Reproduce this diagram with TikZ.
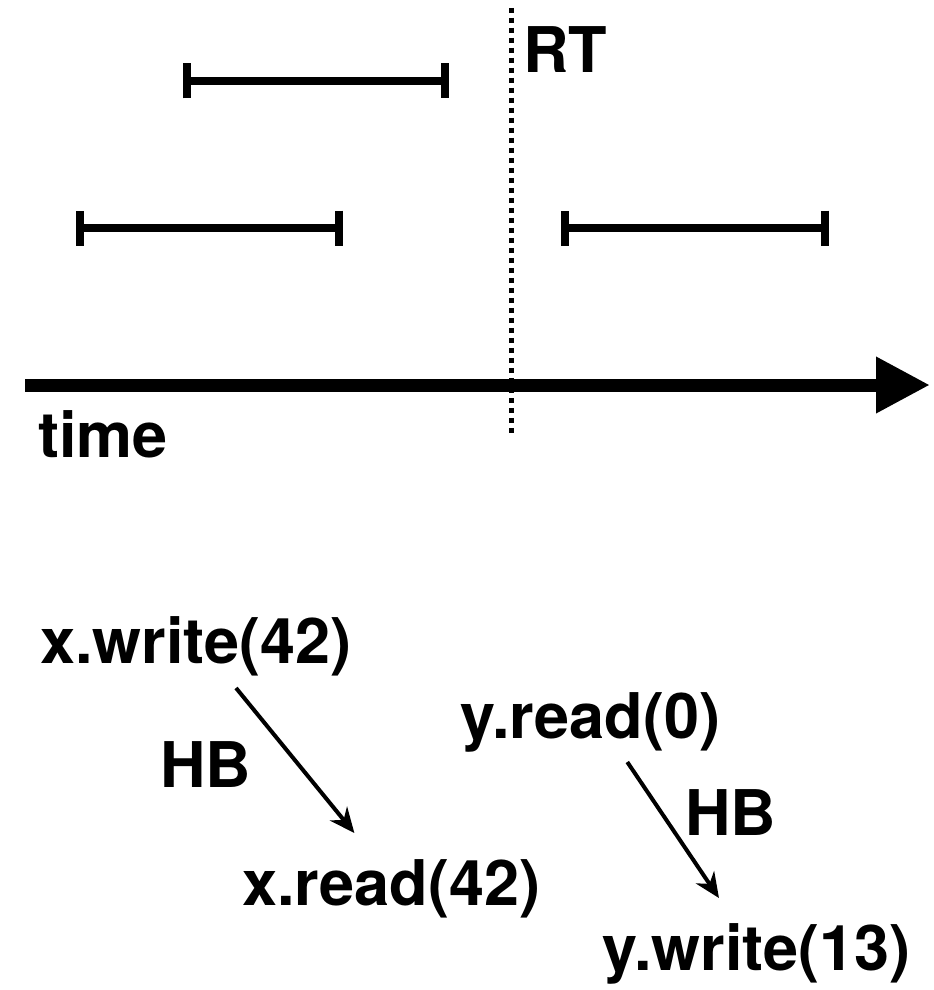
\documentclass[tikz,border=0pt]{standalone}
\usepackage{fontspec}
\setmainfont{TeX Gyre Heros}
\usetikzlibrary{arrows.meta}

\begin{document}
\begin{tikzpicture}[x=0.5pt,y=-0.5pt,
  op/.style={inner sep=0pt,anchor=base west,font=\fontsize{31.5}{38}\selectfont\bfseries},
  span/.style={line width=4pt,{Bar[width=17.5pt]}-{Bar[width=17.5pt]}},
  hb/.style={line width=2pt,-{Stealth[length=12.5pt,width=11pt,inset=4pt]}}]
\def\tAxis{385}
\def\rtX{511}
\useasboundingbox (0,0) rectangle (933,990);
  % time line and the real-time cut
  \draw[line width=6.5pt,-{Triangle[length=27pt,width=26.5pt]}] (25,\tAxis) -- (930,\tAxis);
  \draw[line width=2.5pt,dash pattern=on 2.5pt off 2.5pt] (\rtX,8) -- (\rtX,435);
  %\draw[help lines] (0,0) grid (933,990);
  % operation intervals
  \draw[span] (183,81) -- (449,81);
  \draw[span] (76,228) -- (343,228);
  \draw[span] (561,228) -- (829,228);
\path
(523,73) node [op] (rt) {RT}
(38,457) node [op] (time) {time}
(40,663) node [op] (xw) {x.write(42)}
(242,905) node [op] (xr) {x.read(42)}
(460,738) node [op] (yr) {y.read(0)}
(602,970) node [op] (yw) {y.write(13)}
(160,787) node [op] (hbx) {HB}
(685,835) node [op] (hby) {HB}
;
  % happens-before edges
  \draw[hb] ([xshift=20pt,yshift=-12.5pt]xw.base) -- ([xshift=-18.5pt,yshift=36pt]xr.base);
  \draw[hb] ([xshift=18.5pt,yshift=-12pt]yr.base) -- ([xshift=-18.75pt,yshift=36pt]yw.base);
\end{tikzpicture}
\end{document}
